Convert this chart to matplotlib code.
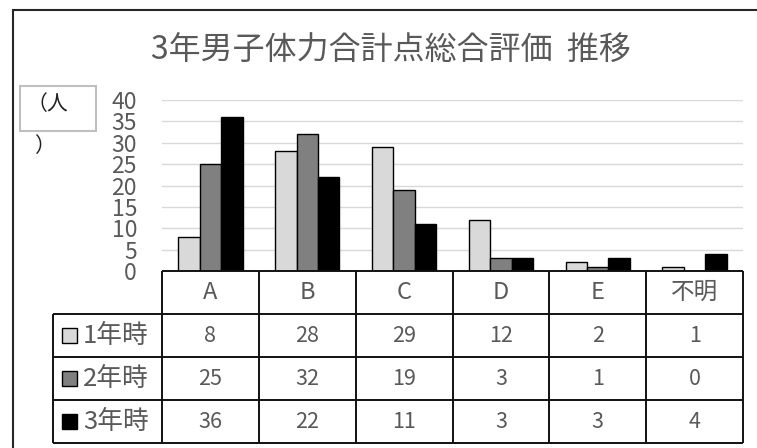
import matplotlib
matplotlib.use("Agg")
import matplotlib.pyplot as plt
from matplotlib.patches import Rectangle
import numpy as np

plt.rcParams["font.family"] = ["Noto Sans CJK JP", "DejaVu Sans"]

title = "3年男子体力合計点総合評価  推移"
categories = ["A", "B", "C", "D", "E", "不明"]
series_names = ["1年時", "2年時", "3年時"]
year1 = [8, 28, 29, 12, 2, 1]
year2 = [25, 32, 19, 3, 1, 0]
year3 = [36, 22, 11, 3, 3, 4]
colors = ["#d9d9d9", "#808080", "#000000"]
yticks = list(range(0, 45, 5))

W, H = 757, 448
fig = plt.figure(figsize=(W / 100, H / 100), dpi=100)


def fx(px):
    return px / W


def fy(py):
    return 1 - py / H


text_gray = "#595959"

# outer chart frame (cut by the image edges)
fig.add_artist(Rectangle((fx(13), -0.05), 2, fy(10) + 0.05, transform=fig.transFigure,
                         fill=False, ec="#262626", lw=1.5))

fig.text(fx(391), fy(51), title, ha="center", va="center", fontsize=23, color=text_gray)

# unit box
fig.add_artist(Rectangle((fx(20), fy(131)), fx(76), 45 / H, transform=fig.transFigure,
                         fill=False, ec="#bfbfbf", lw=1.5))
fig.text(fx(27), fy(104), "（人", ha="left", va="center", fontsize=15, color="#202020")
fig.text(fx(34), fy(146), "）", ha="left", va="center", fontsize=15, color="#202020")

# bar chart
ax = fig.add_axes([fx(162), fy(271), fx(743 - 162), (271 - 100) / H])
x = np.arange(len(categories))
bw = 0.222
for k, vals in enumerate([year1, year2, year3]):
    ax.bar(x + (k - 1) * bw, vals, bw, color=colors[k], edgecolor="black", linewidth=1, zorder=3)
ax.set_xlim(-0.5, len(categories) - 0.5)
ax.set_ylim(0, 40)
ax.set_yticks(yticks)
ax.set_yticklabels([str(v) for v in yticks])
ax.tick_params(axis="y", length=0, pad=18, labelsize=16.5, labelcolor=text_gray)
ax.set_xticks([])
ax.grid(axis="y", color="#d9d9d9", linewidth=1, zorder=0)
for s in ax.spines.values():
    s.set_visible(False)

# data table
label_w = 109 / 96.8
tx = fig.add_axes([fx(53), fy(443), fx(743 - 53), (443 - 271) / H])
tx.set_xlim(-0.5 - label_w, len(categories) - 0.5)
tx.set_ylim(4, 0)
tx.axis("off")
lc = "#111111"
lw = 1.4
tx.hlines(0, -0.5, len(categories) - 0.5, color=lc, lw=lw, clip_on=False)
for r in range(1, 5):
    tx.hlines(r, -0.5 - label_w, len(categories) - 0.5, color=lc, lw=lw, clip_on=False)
for c in range(len(categories) + 1):
    tx.vlines(c - 0.5, 0, 4, color=lc, lw=lw, clip_on=False)
tx.vlines(-0.5 - label_w, 1, 4, color=lc, lw=lw, clip_on=False)

for c, cat in enumerate(categories):
    tx.text(c, 0.5, cat, ha="center", va="center", fontsize=17, color=text_gray)
for r, vals in enumerate([year1, year2, year3]):
    for c, v in enumerate(vals):
        tx.text(c, r + 1.5, str(v), ha="center", va="center", fontsize=15.5, color=text_gray)
    x0 = -0.5 - label_w
    tx.add_patch(Rectangle((x0 + 0.093, r + 1.5 - 0.17), 0.155, 0.34, fc=colors[r],
                           ec="black", lw=1, clip_on=False))
    tx.text(x0 + 0.31, r + 1.52, series_names[r], ha="left", va="center", fontsize=18.5,
            color=text_gray)

fig.savefig("out.png", dpi=100)
